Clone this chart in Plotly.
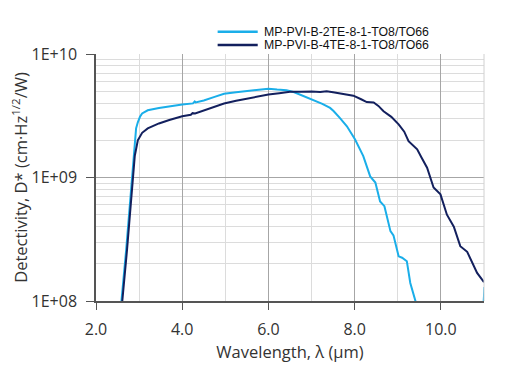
import plotly.graph_objects as go

# Series: MP-PVI-B-2TE-8-1-TO8/TO66 (light blue)
x_2te = [2.55, 2.59, 2.70, 2.80, 2.84, 2.87, 2.895, 2.93, 2.97, 3.02, 3.07, 3.2, 3.46, 3.7, 4.0, 4.25, 4.29, 4.31, 4.5,
         4.75, 4.97, 5.25, 5.5, 5.75, 6.0, 6.2, 6.42, 6.6, 6.8, 7.0, 7.25, 7.43, 7.51, 7.65, 7.82, 8.01, 8.2, 8.36,
         8.48, 8.59, 8.69, 8.83, 8.9, 9.02, 9.1, 9.21, 9.29, 9.41, 9.45,
         None, 10.98, 11.01]
y_2te = [9e7, 1.0e8, 2.6e8, 7.0e8, 1.1e9, 1.5e9, 2.03e9, 2.5e9, 2.8e9, 3.1e9, 3.3e9, 3.5e9, 3.66e9, 3.78e9, 3.9e9, 3.98e9, 4.12e9, 4.05e9, 4.2e9,
         4.5e9, 4.77e9, 4.9e9, 5.0e9, 5.1e9, 5.23e9, 5.15e9, 5.09e9, 4.9e9, 4.6e9, 4.29e9, 3.95e9, 3.66e9, 3.45e9, 3.05e9, 2.6e9, 2.03e9, 1.49e9, 1.02e9,
         9.1e8, 6.4e8, 5.86e8, 3.68e8, 3.4e8, 2.3e8, 2.24e8, 2.1e8, 1.4e8, 1.0e8, 8e7,
         None, 8e7, 1.3e8]

# Series: MP-PVI-B-4TE-8-1-TO8/TO66 (dark navy)
x_4te = [2.57, 2.61, 2.72, 2.82, 2.86, 2.9, 2.97, 3.07, 3.2, 3.46, 3.7, 4.0, 4.2, 4.24, 4.3, 4.6, 4.97, 5.25, 5.5,
         5.75, 6.0, 6.25, 6.5, 6.75, 7.0, 7.2, 7.35, 7.5, 7.75, 7.97, 8.15, 8.28, 8.44, 8.55, 8.67, 8.85, 9.02, 9.15,
         9.25, 9.45, 9.55, 9.68, 9.83, 9.99, 10.14, 10.3, 10.45, 10.61, 10.84, 11.0]
y_4te = [9e7, 1.0e8, 2.6e8, 7.0e8, 1.1e9, 1.5e9, 2.0e9, 2.3e9, 2.5e9, 2.74e9, 2.92e9, 3.13e9, 3.22e9, 3.32e9, 3.3e9, 3.6e9, 3.97e9, 4.18e9, 4.35e9,
         4.55e9, 4.7e9, 4.82e9, 4.94e9, 4.95e9, 4.98e9, 4.92e9, 5.0e9, 4.9e9, 4.75e9, 4.6e9, 4.3e9, 4.08e9, 4.05e9, 3.8e9, 3.44e9, 3.1e9, 2.69e9, 2.35e9,
         1.97e9, 1.69e9, 1.45e9, 1.2e9, 8.3e8, 7.3e8, 5.0e8, 4.0e8, 2.78e8, 2.5e8, 1.69e8, 1.42e8]

series_names = ["MP-PVI-B-2TE-8-1-TO8/TO66", "MP-PVI-B-4TE-8-1-TO8/TO66"]
series_colors = ["#1aaee9", "#13205e"]

x_ticks = [2, 4, 6, 8, 10]
x_ticklabels = ["2.0", "4.0", "6.0", "8.0", "10.0"]
x_minor = [3, 5, 7, 9, 11]
y_ticks = [1e8, 1e9, 1e10]
y_ticklabels = ["1E+08", "1E+09", "1E+10"]
y_minor = [m * 10 ** e for e in (8, 9) for m in range(2, 10)]

fig = go.Figure()
fig.add_trace(go.Scatter(x=x_2te, y=y_2te, mode="lines", name=series_names[0],
                         line=dict(color=series_colors[0], width=2), connectgaps=False))
fig.add_trace(go.Scatter(x=x_4te, y=y_4te, mode="lines", name=series_names[1],
                         line=dict(color=series_colors[1], width=2)))

tick_font = dict(family="Open Sans", size=16, color="#333333")
title_font = dict(family="Open Sans", size=16.5, color="#333333")
fig.update_layout(
    width=511, height=372,
    margin=dict(l=88, r=35, t=46, b=79, autoexpand=False),
    paper_bgcolor="white", plot_bgcolor="white",
    showlegend=False,
    xaxis=dict(range=[2, 11], tickmode="array", tickvals=x_ticks, ticktext=x_ticklabels, tickfont=tick_font,
               showgrid=True, gridcolor="#a6a6a6", gridwidth=1,
               minor=dict(tickmode="array", tickvals=x_minor, showgrid=True, gridcolor="#dcdcdc", gridwidth=1, ticks=""),
               showline=True, linecolor="#555555", linewidth=1.5,
               ticks="outside", ticklen=7, tickcolor="#555555", ticklabelstandoff=6,
               title=dict(text="Wavelength, λ (µm)", font=title_font, standoff=6),
               zeroline=False),
    yaxis=dict(type="log", range=[8, 10], tickmode="array", tickvals=y_ticks, ticktext=y_ticklabels, tickfont=tick_font,
               showgrid=True, gridcolor="#a6a6a6", gridwidth=1,
               minor=dict(tickmode="array", tickvals=y_minor, showgrid=True, gridcolor="#dcdcdc", gridwidth=1, ticks=""),
               showline=True, linecolor="#555555", linewidth=1.5,
               ticks="outside", ticklen=8, tickcolor="#555555", ticklabelstandoff=6,
               title=dict(text="Detectivity, D* (cm·Hz<sup>1/2</sup>/W)", font=title_font, standoff=9),
               zeroline=False),
)
fig.add_shape(type="line", xref="paper", yref="paper", x0=1, x1=1, y0=0, y1=1,
              line=dict(color="#d0d0d0", width=1))

# Legend drawn in the top margin
legend_rows_y = [1.09, 1.036]
for name, color, ly in zip(series_names, series_colors, legend_rows_y):
    fig.add_shape(type="line", xref="paper", yref="paper", x0=0.3135, x1=0.4168, y0=ly, y1=ly,
                  line=dict(color=color, width=2.5))
    fig.add_annotation(xref="paper", yref="paper", x=0.427, y=ly, xanchor="left", yanchor="middle",
                       text=name, showarrow=False,
                       font=dict(family="Liberation Sans, Arial", size=12.3, color="#111111"))

fig.write_html("out.html")
